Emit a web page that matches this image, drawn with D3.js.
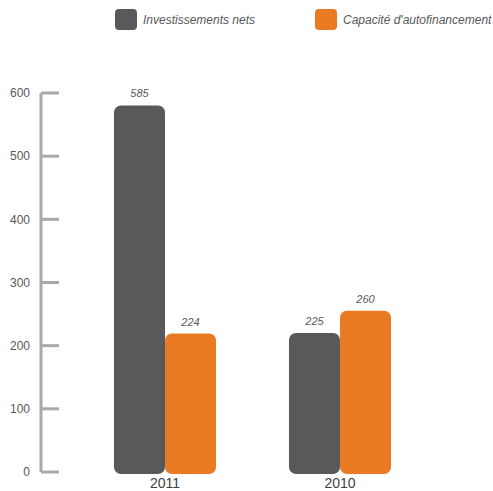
<!DOCTYPE html>
<head>
    <meta charset="utf-8">
    <title>Investissements nets / Capacité d'autofinancement</title>
    <style>
        body { margin: 0; background: #fff; }
        text { font-family: "Liberation Sans", Arial, sans-serif; }
    </style>
</head>
<body>

<svg width="493" height="491"></svg>

<script src="https://d3js.org/d3.v7.min.js"></script>

<script>

    // Data
    const years = ["2011", "2010"];
    const series = ["Investissements nets", "Capacité d'autofinancement"];
    const investissements = [585, 225];
    const autofinancement = [224, 260];
    const yTicks = [0, 100, 200, 300, 400, 500, 600];

    const colors = ["#58595b", "#ea7a24"];

    const svg = d3.select("svg");

    const y = d3.scaleLinear()
        .domain([0, 600])
        .range([472, 93]);

    const x0 = d3.scaleBand()
        .domain(years)
        .range([26.5, 478.5])
        .paddingInner(0.417)
        .paddingOuter(0.5);

    const x1 = d3.scaleBand()
        .domain(series)
        .range([0, x0.bandwidth()])
        .padding(0);

    const values = [investissements, autofinancement];

    // Axis: vertical line with ticks pointing right
    const axis = svg.append("g");
    axis.append("line")
        .attr("x1", 41).attr("x2", 41)
        .attr("y1", y(600)).attr("y2", y(0))
        .attr("stroke", "#a7a9ac")
        .attr("stroke-width", 3);

    axis.selectAll(".tick")
        .data(yTicks)
        .enter().append("line")
            .attr("x1", 41).attr("x2", 59)
            .attr("y1", d => y(d)).attr("y2", d => y(d))
            .attr("stroke", "#a7a9ac")
            .attr("stroke-width", 3);

    axis.selectAll(".lbl")
        .data(yTicks)
        .enter().append("text")
            .attr("x", 30)
            .attr("y", d => y(d))
            .attr("dy", "0.35em")
            .attr("text-anchor", "end")
            .attr("font-size", 12)
            .attr("fill", "#58595b")
            .text(d => d);

    // Bars
    const group = svg.selectAll(".year")
        .data(years)
        .enter().append("g")
            .attr("transform", d => "translate(" + x0(d) + ",0)");

    group.selectAll("rect")
        .data((d, i) => series.map((s, j) => ({ s: s, j: j, v: values[j][i] })))
        .enter().append("rect")
            .attr("x", d => x1(d.s))
            .attr("width", x1.bandwidth())
            .attr("y", d => y(d.v) + 3)
            .attr("height", d => y(0) - y(d.v) - 1)
            .attr("rx", 7)
            .attr("fill", d => colors[d.j]);

    group.selectAll(".val")
        .data((d, i) => series.map((s, j) => ({ s: s, v: values[j][i] })))
        .enter().append("text")
            .attr("x", d => x1(d.s) + x1.bandwidth() / 2)
            .attr("y", d => y(d.v) - 5)
            .attr("text-anchor", "middle")
            .attr("font-size", 11)
            .attr("font-style", "italic")
            .attr("fill", "#58595b")
            .text(d => d.v);

    group.append("text")
        .attr("x", x0.bandwidth() / 2)
        .attr("y", 488)
        .attr("text-anchor", "middle")
        .attr("font-size", 14)
        .attr("fill", "#414042")
        .text(d => d);

    // Legend
    const legendX = [115, 315];
    const legend = svg.selectAll(".legend")
        .data(series)
        .enter().append("g")
            .attr("transform", (d, i) => "translate(" + legendX[i] + ",9)");

    legend.append("rect")
        .attr("width", 22).attr("height", 21)
        .attr("rx", 4)
        .attr("fill", (d, i) => colors[i]);

    legend.append("text")
        .attr("x", 28)
        .attr("y", 15)
        .attr("font-size", 12)
        .attr("font-style", "italic")
        .attr("fill", "#58595b")
        .text(d => d);

</script>

</body>
